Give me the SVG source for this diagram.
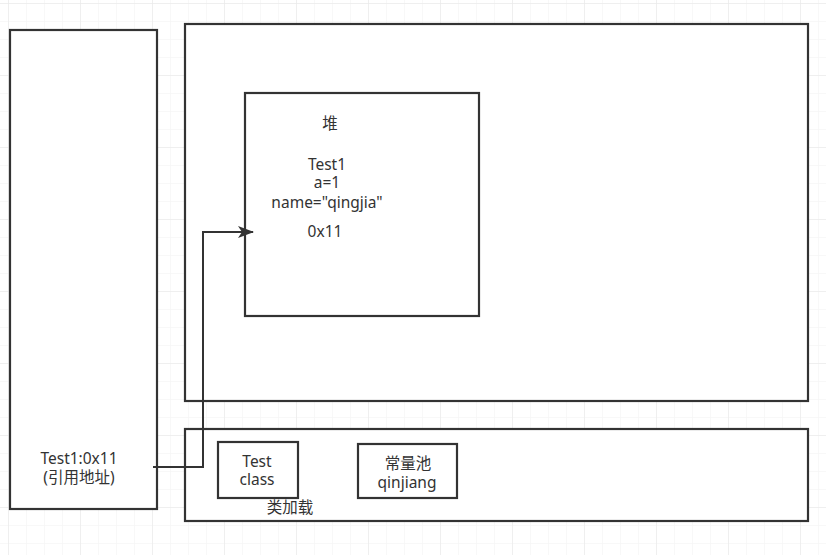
<svg xmlns="http://www.w3.org/2000/svg" width="826" height="555" viewBox="0 0 826 555">
<style>
.box{fill:#ffffff;stroke:#333333;stroke-width:2.2}
.t{font-family:"Noto Sans","Noto Sans CJK SC",sans-serif;font-size:15.5px;fill:#333333;text-anchor:middle}
.edge{fill:none;stroke:#333333;stroke-width:2}
</style>
<defs>
<pattern id="minor" x="8" y="3" width="18" height="18" patternUnits="userSpaceOnUse">
<path d="M0 0H18M0 0V18" fill="none" stroke="#f2f2f2" stroke-width="1"/>
</pattern>
<pattern id="major" x="8" y="3" width="72" height="72" patternUnits="userSpaceOnUse">
<path d="M0 0H72M0 0V72" fill="none" stroke="#e6e6e6" stroke-width="1"/>
</pattern>
<marker id="arrow" markerWidth="16" markerHeight="12" refX="15" refY="6" orient="auto" markerUnits="userSpaceOnUse" viewBox="0 0 16 12">
<path d="M0 0L16 6L0 12L4 6Z" fill="#333333"/>
</marker>
</defs>
<rect width="826" height="555" fill="#ffffff"/>
<rect width="826" height="555" fill="url(#minor)"/>
<rect width="826" height="555" fill="url(#major)"/>
<g id="stack">
<rect class="box" x="10" y="30" width="147" height="479"/>
<text class="t" x="79" y="464">Test1:0x11</text>
<text class="t" x="79" y="483">(引用地址)</text>
</g>
<g id="heapArea">
<rect class="box" x="185" y="24" width="623" height="377"/>
</g>
<g id="heap">
<rect class="box" x="245" y="93" width="234" height="223"/>
<text class="t" x="330" y="129">堆</text>
<text class="t" x="327" y="170">Test1</text>
<text class="t" x="327" y="188">a=1</text>
<text class="t" x="327" y="208">name="qingjia"</text>
<text class="t" x="325" y="237">0x11</text>
</g>
<g id="methodArea">
<rect class="box" x="185" y="429" width="623" height="92"/>
<text class="t" x="290" y="513">类加载</text>
</g>
<g id="testClass">
<rect class="box" x="218" y="442" width="80" height="56"/>
<text class="t" x="257" y="467">Test</text>
<text class="t" x="257" y="485">class</text>
</g>
<g id="constPool">
<rect class="box" x="358" y="444" width="99" height="54"/>
<text class="t" x="408" y="469">常量池</text>
<text class="t" x="407" y="488">qinjiang</text>
</g>
<g id="connectors">
<path class="edge" d="M153 467H203V232H253" marker-end="url(#arrow)"/>
</g>
</svg>
